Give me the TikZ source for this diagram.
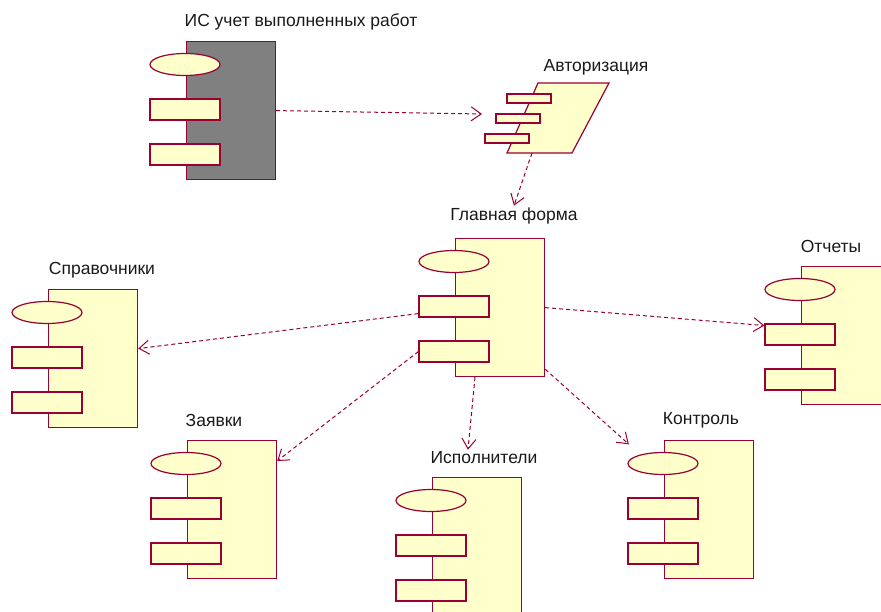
\documentclass[tikz,border=0pt]{standalone}
\usepackage{fontspec}
\setmainfont{Liberation Sans}
\usepackage{tikz}
\usetikzlibrary{shapes.geometric, arrows.meta, positioning}
\definecolor{roseline}{HTML}{990033}
\definecolor{rosefill}{HTML}{FFFFCC}
\definecolor{rosegray}{HTML}{808080}

\begin{document}
\begin{tikzpicture}[x=1pt, y=-1pt,
    comp/.style={rectangle, draw=roseline, fill=rosefill, line width=1.2pt, minimum width=89pt, minimum height=138pt, inner sep=0pt, anchor=north west},
    port/.style={rectangle, draw=roseline, fill=rosefill, line width=1.2pt, minimum width=70pt, minimum height=21pt, inner sep=0pt},
    smallport/.style={port, minimum width=44pt, minimum height=9pt},
    eye/.style={ellipse, draw=roseline, fill=rosefill, line width=1.2pt, minimum width=70pt, minimum height=22pt, inner sep=0pt},
    lbl/.style={font=\fontsize{17.5}{20}\selectfont, text=black!90, inner sep=1pt},
    dep/.style={draw=roseline, line width=1pt, dash pattern=on 4pt off 3pt, -{Straight Barb[length=10pt, width=14pt]}}]
    \useasboundingbox (0,0) rectangle (881,612);

    % Components
    \node[comp, fill=rosegray] (is) at (186,41) {};
    \node[comp] (main) at (455,238) {};
    \node[comp] (ref) at (48,289) {};
    \node[comp] (req) at (187,440) {};
    \node[comp] (perf) at (432,477) {};
    \node[comp] (ctrl) at (664,440) {};
    \node[comp] (rep) at (801,266) {};
    \foreach \n in {is, main, ref, req, perf, ctrl, rep} {
        \node[eye] (\n-e) at ([shift={(-1pt,-23.5pt)}]\n.north west) {};
        \node[port] (\n-r1) at ([shift={(-1pt,-68.5pt)}]\n.north west) {};
        \node[port] (\n-r2) at ([shift={(-1pt,-113.5pt)}]\n.north west) {};
    }

    % Authorization
    \coordinate (auth a) at (538,83);
    \coordinate (auth b) at (609,83);
    \coordinate (auth c) at (572,153);
    \coordinate (auth d) at (507,153);
    \draw[roseline, fill=rosefill, line width=1.2pt] (auth a) -- (auth b) -- (auth c) -- (auth d) -- cycle;
    \node[smallport] (auth-r1) at (529,98.5) {};
    \node[smallport] (auth-r2) at (518,118.5) {};
    \node[smallport] (auth-r3) at (507,138.5) {};
    \coordinate (auth in) at (482,114);
    \coordinate (auth out) at (532,153);

    % Labels
    \node[lbl] (is lbl) at (301,22) {ИС учет выполненных работ};
    \node[lbl] (auth lbl) at (596,67) {Авторизация};
    \node[lbl] (main lbl) at (514,216) {Главная форма};
    \node[lbl] (ref lbl) at (102,270) {Справочники};
    \node[lbl] (req lbl) at (214,420) {Заявки};
    \node[lbl] (perf lbl) at (484,458) {Исполнители};
    \node[lbl] (ctrl lbl) at (701,420) {Контроль};
    \node[lbl] (rep lbl) at (831,246) {Отчеты};

    % Dependencies
    \draw[dep] (is.east) -- (auth in);
    \draw[dep] (auth out) -- ([yshift=1pt]main lbl.north);
    \draw[dep] ([yshift=4pt]main-r1.south west) -- ([yshift=10pt]ref.east);
    \draw[dep] (main-r2.west) -- ([yshift=-21pt]req.north east);
    \draw[dep] ([xshift=20pt]main.south west) -- ([xshift=-16pt, yshift=1pt]perf lbl.north);
    \draw[dep] ([yshift=8pt]main.south east) -- ([shift={(-9pt,11pt)}]ctrl-e.north west);
    \draw[dep] (main.east) -- ([yshift=9pt]rep-r1.west);
\end{tikzpicture}
\end{document}
